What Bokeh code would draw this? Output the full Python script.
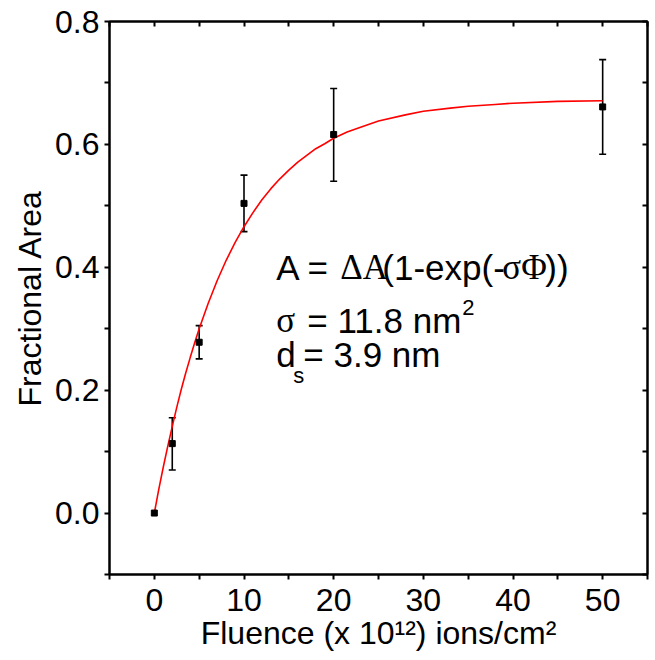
from bokeh.plotting import figure
from bokeh.models import Range1d, FixedTicker, LinearAxis, Label, Whisker, ColumnDataSource, TeeHead
from bokeh.embed import file_html
from bokeh.resources import INLINE

# ---- data ----
fluence = [0, 2, 5, 10, 20, 50]
area = [0.0, 0.113, 0.278, 0.504, 0.616, 0.661]
err_upper = [0.0, 0.155, 0.305, 0.550, 0.691, 0.738]
err_lower = [0.0, 0.070, 0.251, 0.458, 0.540, 0.584]

# fitted curve A = dA(1-exp(-sigma*Phi))
fit_x = [0, 0.5, 1, 1.5, 2, 2.5, 3, 3.5, 4, 4.5, 5, 6, 7, 8, 9, 10, 11, 12, 13, 14, 15,
         16, 17, 18, 19, 20, 21.5, 23, 25, 28, 30, 33, 35, 38, 40, 45, 50]
fit_y = [0.0, 0.039, 0.075, 0.109, 0.141, 0.172, 0.201, 0.228, 0.253, 0.277, 0.300,
         0.341, 0.378, 0.411, 0.440, 0.466, 0.489, 0.510, 0.528, 0.544, 0.558,
         0.571, 0.582, 0.593, 0.601, 0.610, 0.620, 0.628, 0.638, 0.648, 0.654,
         0.659, 0.662, 0.665, 0.667, 0.670, 0.671]

x_ticks = [0, 10, 20, 30, 40, 50]
x_minor = [-5, 5, 15, 25, 35, 45, 55]
x_tick_labels = ["0", "10", "20", "30", "40", "50"]
y_ticks = [0.0, 0.2, 0.4, 0.6, 0.8]
y_minor = [-0.1, 0.1, 0.3, 0.5, 0.7]
y_tick_labels = ["0.0", "0.2", "0.4", "0.6", "0.8"]

SANS = "Liberation Sans"
SERIF = "Liberation Serif"

p = figure(width=655, height=660, x_range=Range1d(-5, 55), y_range=Range1d(-0.1, 0.8),
           output_backend="svg", toolbar_location=None,
           min_border_left=109, min_border_right=8, min_border_top=21, min_border_bottom=86)
p.grid.visible = False
p.outline_line_color = "black"
p.outline_line_width = 2
p.background_fill_color = "white"
p.border_fill_color = "white"

xt = FixedTicker(ticks=x_ticks, minor_ticks=x_minor)
yt = FixedTicker(ticks=y_ticks, minor_ticks=y_minor)

def style_main(ax, ticker, labels, ticks):
    ax.ticker = ticker
    ax.major_label_overrides = {t: l for t, l in zip(ticks, labels)}
    ax.axis_line_width = 2
    ax.major_tick_line_width = 2
    ax.minor_tick_line_width = 2
    ax.major_tick_out = 5
    ax.major_tick_in = 0
    ax.minor_tick_out = 5
    ax.minor_tick_in = 0
    ax.major_label_text_font = SANS
    ax.major_label_text_font_size = "32px"
    ax.major_label_text_color = "black"
    ax.axis_label_text_font = SANS
    ax.axis_label_text_font_size = "32px"
    ax.axis_label_text_font_style = "normal"
    ax.axis_label_text_color = "black"

xa = p.xaxis[0]
style_main(xa, xt, x_tick_labels, x_ticks)
xa.axis_label = "Fluence (x 10¹²) ions/cm²"
xa.major_label_standoff = 9
xa.axis_label_standoff = 1

ya = p.yaxis[0]
style_main(ya, yt, y_tick_labels, y_ticks)
ya.axis_label = "Fractional Area"
ya.major_label_standoff = 5
ya.axis_label_standoff = 4

for side, ticker in (("above", xt), ("right", yt)):
    ax = LinearAxis(ticker=ticker, axis_line_width=2, major_tick_line_width=2,
                    minor_tick_line_width=2, major_tick_in=5, major_tick_out=0,
                    minor_tick_in=5, minor_tick_out=0, major_label_text_font_size="0px",
                    major_label_standoff=0, major_label_text_alpha=0)
    p.add_layout(ax, side)

# fit curve
p.line(fit_x, fit_y, line_color="red", line_width=1.6)

# error bars (skip the zero point, which has none)
err_src = ColumnDataSource(dict(x=fluence[1:], upper=err_upper[1:], lower=err_lower[1:]))
p.add_layout(Whisker(base="x", upper="upper", lower="lower", source=err_src,
                     line_color="black", line_width=1.6,
                     upper_head=TeeHead(size=7, line_color="black", line_width=1.6),
                     lower_head=TeeHead(size=7, line_color="black", line_width=1.6)))

p.scatter(fluence, area, marker="square", size=6, color="black")

# annotation text
FS = "35px"
def lab(x, y, text, font, dx=0, dy=0, size=FS):
    p.add_layout(Label(x=x, y=y, x_offset=dx, y_offset=dy, text=text, text_font=font,
                       text_font_size=size, text_color="black", text_align="left",
                       text_baseline="alphabetic"))

x0 = 13.6
y1, y2, y3 = 0.400, 0.313, 0.258
lab(x0, y1, "A = ", SANS, 0)
lab(x0, y1, "ΔA", SERIF, 64)
lab(x0, y1, "(1-exp(-", SANS, 106)
lab(x0, y1, "σΦ", SERIF, 226)
lab(x0, y1, "))", SANS, 269)

lab(x0, y2, "σ", SERIF, 0)
lab(x0, y2, "= 11.8 nm", SANS, 31)
lab(x0, y2, "2", SANS, 186, 13, "22px")

lab(x0, y3, "d", SANS, 0)
lab(x0, y3, "s", SANS, 17, -21, "22px")
lab(x0, y3, "= 3.9 nm", SANS, 27)

open("out.html", "w").write(file_html(p, INLINE))
